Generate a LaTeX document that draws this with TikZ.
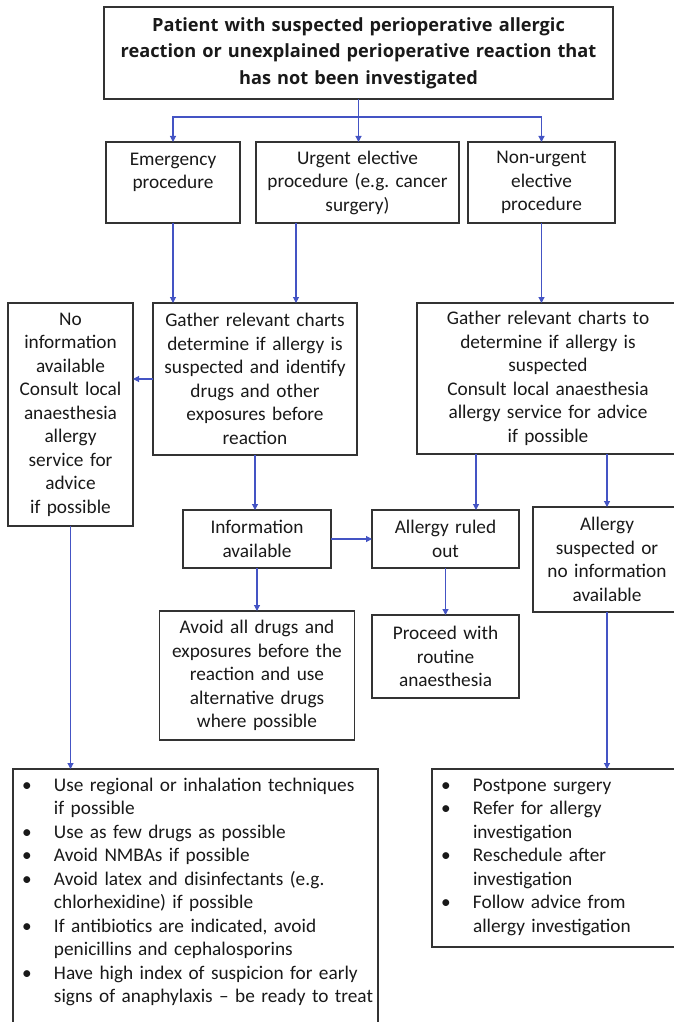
\documentclass[tikz,border=0pt]{standalone}
\usepackage{fontspec}
\setmainfont{Carlito}
\newfontfamily\headfont{Open Sans}
\usetikzlibrary{
    arrows.meta,
    positioning
}
\definecolor{linkblue}{RGB}{68,84,196}
\frenchspacing

\newcommand{\bpoint}[1]{\mbox{\makebox[32pt][l]{\textbullet}#1}}
\newcommand{\bcont}[1]{\mbox{\hspace*{32pt}#1}}

\begin{document}
\begin{tikzpicture}[
        x=1pt, y=-1pt,
        every node/.style={font=\fontsize{19.3}{23.5}\selectfont},
        box/.style={
            rectangle,
            draw=black!80,
            line width=1.2pt,
            outer sep=0pt,
            text=black!90,
            align=center,
            inner xsep=4pt,
            inner ysep=3pt
        },
        dims/.style 2 args={minimum width=#1, text width=#1-8pt, minimum height=#2},
        headbox/.style={box, font=\headfont\bfseries\fontsize{18.2}{26.5}\selectfont},
        listbox/.style={box, align=left, inner xsep=9pt, inner ysep=5pt, text height=17pt},
        flow/.style={-{Triangle[length=6pt,width=6pt]}, line width=1.1pt, draw=linkblue}
    ]
        \useasboundingbox (0,0) rectangle (673,1022);

        \node[headbox, dims={509pt}{92pt}] (patient) at (358.5,53)
            {Patient with suspected perioperative allergic\\reaction or unexplained perioperative reaction that\\has not been investigated};

        \node[box, dims={134pt}{81pt}, below right=43pt and 2pt of patient.south west] (emergency)
            {Emergency\\procedure\\\mbox{}};
        \node[box, dims={203pt}{81pt}, right=16pt of emergency] (urgent)
            {Urgent elective\\procedure (e.g. cancer\\surgery)};
        \node[box, dims={147pt}{81pt}, right=9pt of urgent] (nonurgent)
            {Non-urgent\\elective\\procedure};

        \node[box, dims={204pt}{152pt}, anchor=north west] (charts) at (153,303)
            {Gather relevant charts\\determine if allergy is\\suspected and identify\\drugs and other\\exposures before\\reaction};
        \node[box, dims={125pt}{223pt}, left=20pt of charts.north west, anchor=north east] (noinfo)
            {No\\information\\available\\Consult local\\anaesthesia\\allergy\\service for\\advice\\if possible};
        \node[box, dims={262pt}{151pt}, right=60pt of charts.north east, anchor=north west] (chartsb)
            {Gather relevant charts to\\determine if allergy is\\suspected\\Consult local anaesthesia\\allergy service for advice\\if possible};

        \node[box, dims={148pt}{58pt}, below right=55pt and 30pt of charts.south west] (infoav)
            {Information\\available};
        \node[box, dims={147pt}{58pt}, right=41pt of infoav] (ruledout)
            {Allergy ruled\\out};
        \node[box, dims={148pt}{105pt}, below right=53pt and 116pt of chartsb.south west] (suspected)
            {Allergy\\suspected or\\no information\\available};

        \node[box, dims={195pt}{129pt}, below=43pt of infoav] (avoid)
            {Avoid all drugs and\\exposures before the\\reaction and use\\alternative drugs\\where possible};
        \node[box, dims={147pt}{83pt}, below=47pt of ruledout] (routine)
            {Proceed with\\routine\\anaesthesia};

        \node[listbox, minimum width=365pt, text width=347pt, text depth=236pt, anchor=north west] (precautions) at (13,769)
            {\bpoint{Use regional or inhalation techniques}\\
             \bcont{if possible}\\
             \bpoint{Use as few drugs as possible}\\
             \bpoint{Avoid NMBAs if possible}\\
             \bpoint{Avoid latex and disinfectants (e.g.}\\
             \bcont{chlorhexidine) if possible}\\
             \bpoint{If antibiotics are indicated, avoid}\\
             \bcont{penicillins and cephalosporins}\\
             \bpoint{Have high index of suspicion for early}\\
             \bcont{signs of anaphylaxis -- be ready to treat}};
        \node[listbox, minimum width=250pt, text width=232pt, text depth=151pt, right=54pt of precautions.north east, anchor=north west] (postpone)
            {\bpoint{Postpone surgery}\\
             \bpoint{Refer for allergy}\\
             \bcont{investigation}\\
             \bpoint{Reschedule after}\\
             \bcont{investigation}\\
             \bpoint{Follow advice from}\\
             \bcont{allergy investigation}};

        \coordinate (split) at ([yshift=-18pt]patient.south);
        \coordinate (urgentfoot) at ([xshift=40pt]urgent.south west);
        \coordinate (chartsbfoot) at ([xshift=59pt]chartsb.south west);

        \draw[flow] (patient.south) -- (patient.south |- urgent.north);
        \draw[flow] (split) -| (emergency.north);
        \draw[flow] (split) -| (nonurgent.north);
        \draw[flow] (emergency.south) -- (emergency.south |- charts.north);
        \draw[flow] (urgentfoot) -- (urgentfoot |- charts.north);
        \draw[flow] (nonurgent.south) -- (nonurgent.south |- chartsb.north);
        \draw[flow] (charts.west) -- (charts.west -| noinfo.east);
        \draw[flow] (charts.south) -- (charts.south |- infoav.north);
        \draw[flow] (infoav.east) -- (infoav.east -| ruledout.west);
        \draw[flow] (infoav) -- (avoid);
        \draw[flow] (chartsbfoot) -- (chartsbfoot |- ruledout.north);
        \draw[flow] (suspected.north |- chartsb.south) -- (suspected.north);
        \draw[flow] (ruledout) -- (routine);
        \draw[flow] (suspected.south) -- (suspected.south |- postpone.north);
        \draw[flow] (noinfo.south) -- (noinfo.south |- precautions.north);
    \end{tikzpicture}
\end{document}
